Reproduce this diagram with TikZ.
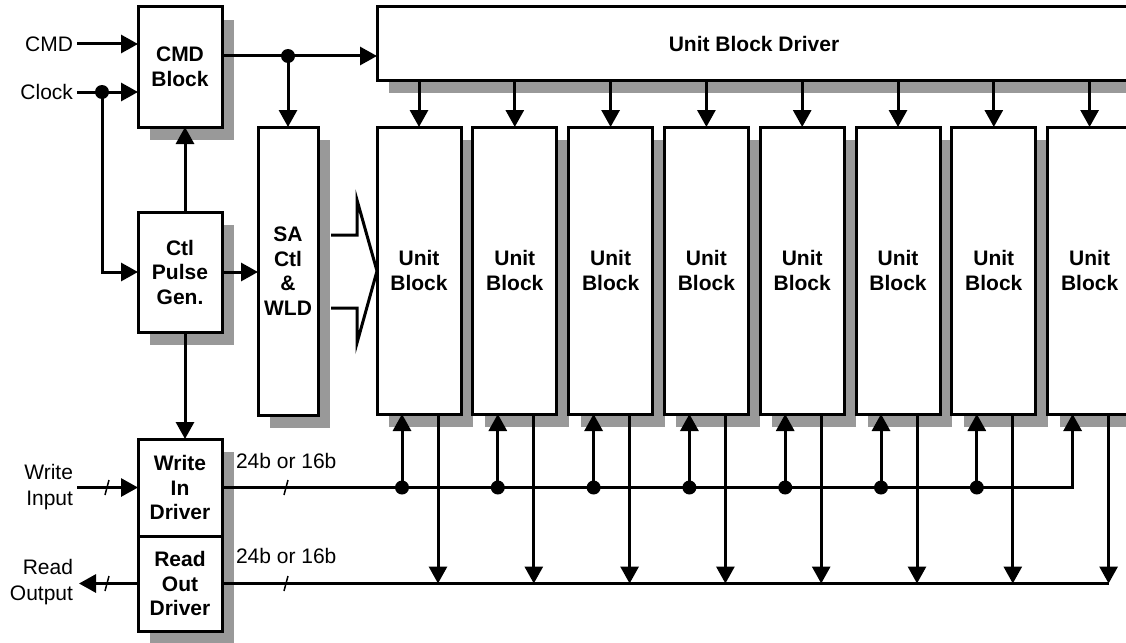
\documentclass[tikz,border=0pt]{standalone}
\usepackage{fontspec}
\setmainfont{Liberation Sans}
\usetikzlibrary{arrows.meta,shadows}
\definecolor{shadowgray}{HTML}{999999}
\tikzset{
  blk/.style={draw, line width=3pt, fill=white, inner sep=0pt, outer sep=0pt,
    font=\bfseries\fontsize{21}{24.5}\selectfont, align=center, anchor=north west,
    drop shadow={shadow xshift=12pt, shadow yshift=-13pt, fill=shadowgray, opacity=1}},
  lbl/.style={font=\fontsize{21}{26}\selectfont, inner sep=0pt, outer sep=0pt},
  plain/.style={line width=3pt},
  wire/.style={line width=3pt, -{Triangle[length=17pt,width=18pt]}},
  slash/.style={line width=1.5pt},
  dot/.style={fill=black}
}
\begin{document}
\begin{tikzpicture}[x=1pt,y=-1pt]
\clip (0,0) rectangle (1126,642);
\fill[white] (0,0) rectangle (1126,642);

% boxes
\node[blk, minimum width=84pt, minimum height=120pt] (cmd) at (138,7) {CMD\\Block};
\node[blk, minimum width=84pt, minimum height=120pt] (ctl) at (138,212) {Ctl\\Pulse\\Gen.};
\node[blk, minimum width=60pt, minimum height=288pt] (sa) at (258,127) {SA\\Ctl\\\&\\WLD};
\node[blk, minimum width=84pt, minimum height=97pt] (wid) at (138,439) {Write\\In\\Driver};
\node[blk, minimum width=84pt, minimum height=95pt] (rod) at (138,536) {Read\\Out\\Driver};
\node[blk, minimum width=754pt, minimum height=73pt] (ubd) at (377,7) {Unit Block Driver};
\foreach \i in {0,...,7} {
  \node[blk, minimum width=84pt, minimum height=287pt] (ub\i) at ({377+95.8*\i},127) {Unit\\Block};
}

% labels
\node[lbl, anchor=east] (cmdl) at (73,44) {CMD};
\node[lbl, anchor=east] (clkl) at (73,92) {Clock};
\node[lbl, anchor=east, align=right] (wil) at (73,487) {Write\\Input};
\node[lbl, anchor=east, align=right] (rol) at (73,582) {Read\\Output};
\node[lbl, anchor=west] (wbl) at (236,461) {24b or 16b};
\node[lbl, anchor=west] (rbl) at (236,556) {24b or 16b};

% free ends
\coordinate (cmdA) at (77,44);
\coordinate (clkA) at (77,92);
\coordinate (clkJ) at (102,92);
\coordinate (wiA) at (77,487.5);
\coordinate (roA) at (79,583.5);

% inputs
\draw[wire] (cmdA) -- (cmd.west |- cmdA);
\draw[wire] (clkA) -- (cmd.west |- clkA);
\fill[dot] (clkJ) circle (7pt);
\draw[wire] (clkJ) |- (ctl.west);
\draw[wire] (ctl.east) -- (sa.west |- ctl.east);
\draw[wire] ([xshift=5pt]ctl.north) -- ([xshift=5pt]cmd.south);
\draw[wire] ([xshift=5pt]ctl.south) -- ([xshift=5pt]wid.north);

% cmd out
\coordinate (cmdo) at ([yshift=11pt]cmd.east);
\draw[wire] (cmdo) -- (cmdo -| ubd.west);
\fill[dot] (cmdo -| sa.north) circle (7pt);
\draw[wire] (cmdo -| sa.north) -- (sa.north);

% hollow arrow
\draw[line width=3pt, line join=miter] (331,235) -- (357,235) -- (357,200) -- (377,271) -- (357,343) -- (357,308) -- (331,308);

% driver to unit blocks
\foreach \i in {0,...,7} {
  \draw[wire] (ubd.south -| ub\i.north) -- (ub\i.north);
}

% write bus
\draw[wire] (wid.east) -| ([xshift=25pt]ub7.south west);
\foreach \i in {0,...,6} {
  \fill[dot] ([xshift=25pt]ub\i.south west |- wid.east) circle (7pt);
  \draw[wire] ([xshift=25pt]ub\i.south west |- wid.east) -- ([xshift=25pt]ub\i.south west);
}

% read bus
\draw[plain] (rod.east) -- ([xshift=61pt]ub7.south west |- rod.east);
\foreach \i in {0,...,7} {
  \draw[wire] ([xshift=61pt]ub\i.south west) -- ([xshift=61pt]ub\i.south west |- rod.east);
}

% write input / read output
\draw[wire] (wiA) -- (wid.west);
\draw[wire] (rod.west) -- (roA |- rod.west);

% slashes
\draw[slash] (109,480) -- (105,495);
\draw[slash] (109,576) -- (105,591);
\draw[slash] (288,480) -- (284,495);
\draw[slash] (288,576) -- (284,591);
\end{tikzpicture}
\end{document}
